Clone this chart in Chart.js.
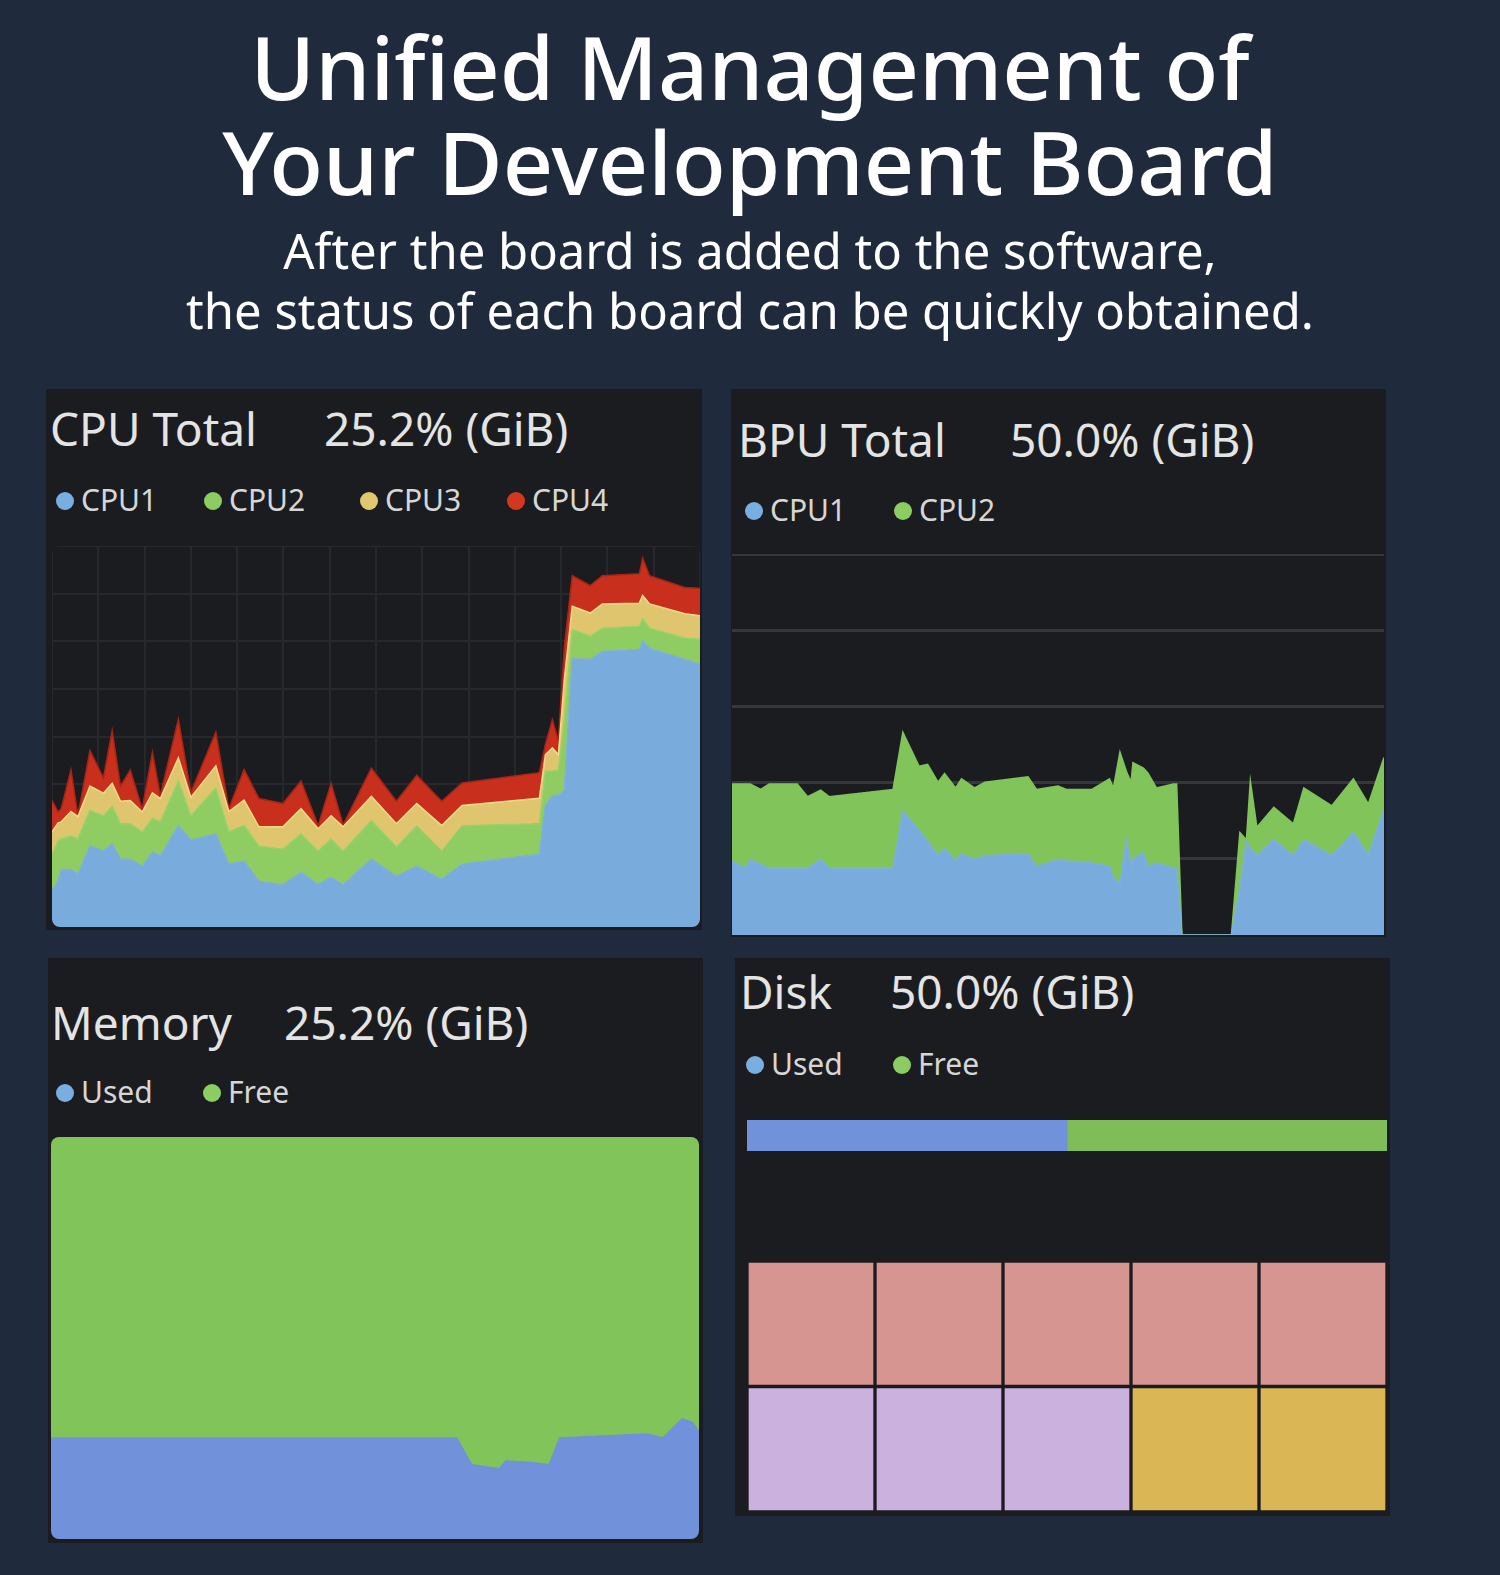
<!DOCTYPE html>
<html>
<head>
<meta charset="utf-8">
<title>Unified Management of Your Development Board</title>
<script src="https://cdn.jsdelivr.net/npm/chart.js@4.4.0/dist/chart.umd.min.js"></script>
<style>
  html, body { margin: 0; padding: 0; }
  body {
    width: 1500px; height: 1575px; position: relative; overflow: hidden;
    background: #1f2b3d; font-family: "Noto Sans", sans-serif; color: #fff;
  }
  .t { position: absolute; white-space: nowrap; line-height: 1; }
  .head { left: 0; width: 1500px; text-align: center; font-weight: 500; }
  .panel { position: absolute; background: #1b1c1f; }
  .box { position: absolute; }
  .box.round { border-radius: 8px; overflow: hidden; }
  .ptitle { color: #e4e4e4; }
  .leg { color: #d6d6d6; }
  .dot { position: absolute; width: 18px; height: 18px; border-radius: 50%; }
</style>
</head>
<body>

<div class="t head" id="h1" style="font-size:88px">Unified Management of</div>
<div class="t head" id="h2" style="font-size:88px">Your Development Board</div>
<div class="t head" id="s1" style="font-size:49px;font-weight:400">After the board is added to the software,</div>
<div class="t head" id="s2" style="font-size:49px;font-weight:400">the status of each board can be quickly obtained.</div>

<div class="panel" style="left:46px;top:389px;width:656px;height:541px"></div>
<div class="panel" style="left:731px;top:389px;width:655px;height:548px"></div>
<div class="panel" style="left:48px;top:958px;width:655px;height:585px"></div>
<div class="panel" style="left:735px;top:958px;width:655px;height:558px"></div>

<div class="box round" style="left:52px;top:546px;width:648px;height:381px"><canvas id="cpuChart"></canvas></div>
<div class="box" style="left:732px;top:554px;width:652px;height:381px"><canvas id="bpuChart"></canvas></div>
<div class="box round" style="left:51px;top:1137px;width:648px;height:402px"><canvas id="memChart"></canvas></div>
<div class="box" style="left:747px;top:1120px;width:640px;height:31px"><canvas id="diskBar"></canvas></div>
<div class="box" style="left:747px;top:1261px;width:640px;height:251px"><canvas id="diskGrid"></canvas></div>

<script>
// CPU Total (stacked %, time axis 0..140)
const cpuTime = [0, 1.3, 2.0, 4.1, 5.6, 8.2, 11.1, 13.0, 14.8, 16.9, 19.5, 21.7, 23.4, 27.3, 30.0, 35.4, 38.2, 41.5, 44.7, 49.9, 53.8, 57.5, 60.3, 62.9, 69.0, 74.4, 78.8, 84.2, 88.6, 105.3, 106.6, 108.1, 109.4, 110.7, 112.4, 116.3, 118.9, 126.9, 127.6, 129.1, 136.7, 140];
const cpu1 = [9.8, 11.9, 15.1, 15.1, 13.8, 21.3, 19.9, 21.8, 17.8, 17.8, 15.9, 19.7, 18.6, 26.6, 22.8, 24.4, 16.5, 17.3, 11.9, 11.1, 14.3, 11.1, 13.0, 11.1, 17.8, 13.3, 15.9, 12.5, 16.5, 19.1, 31.9, 34.5, 34.5, 35.9, 70.4, 70.2, 72.3, 72.8, 75.0, 73.1, 70.2, 68.9];
const cpu2 = [9.3, 10.6, 8.0, 8.8, 9.3, 9.3, 9.3, 9.8, 9.3, 9.3, 9.0, 8.8, 9.0, 11.7, 6.4, 12.0, 8.5, 9.3, 9.3, 9.3, 10.1, 8.8, 10.1, 8.8, 10.1, 7.7, 10.6, 7.4, 10.1, 8.0, 9.0, 6.4, 6.7, 18.6, 7.7, 6.1, 6.1, 6.1, 5.9, 5.3, 5.6, 6.7];
const cpu3 = [5.9, 4.8, 4.5, 6.4, 5.9, 6.4, 5.9, 6.1, 5.9, 6.1, 5.3, 6.7, 6.1, 6.1, 4.8, 5.9, 5.3, 6.7, 5.1, 5.9, 6.7, 5.9, 6.1, 6.4, 6.4, 6.1, 5.9, 6.7, 5.3, 6.7, 4.3, 6.1, 4.0, 10.6, 6.1, 6.1, 6.4, 6.1, 6.1, 6.4, 6.4, 6.1];
const cpu4 = [8.2, 2.9, 3.5, 10.9, 0.3, 9.3, 4.0, 13.8, 4.0, 8.0, 0.8, 10.6, 0.8, 10.1, 1.3, 8.8, 0.8, 8.0, 7.4, 6.1, 7.2, 0.8, 8.5, 0.5, 7.4, 5.9, 7.4, 6.4, 5.9, 6.7, 2.7, 7.4, 3.7, 8.5, 8.0, 7.2, 7.4, 7.7, 9.8, 7.4, 6.9, 7.2];
const cpuLabels = ['CPU1', 'CPU2', 'CPU3', 'CPU4'];

// BPU Total (stacked %, time axis 0..100)
const bpuTime = [0, 2.1, 2.8, 4.4, 5.7, 10.0, 11.6, 13.6, 14.9, 24.7, 26.2, 28.7, 30.0, 31.6, 32.6, 34.3, 35.2, 37.2, 38.8, 45.4, 46.7, 50.0, 51.3, 55.2, 57.9, 58.5, 59.5, 60.5, 61.2, 61.5, 63.1, 63.8, 65.1, 67.7, 68.2, 69.0, 76.6, 77.9, 78.9, 79.5, 80.5, 83.1, 86.1, 87.7, 92.0, 95.3, 97.6, 100];
const bpu1 = [19.4, 17.5, 19.8, 18.5, 17.5, 17.5, 17.5, 19.8, 17.5, 17.5, 32.5, 27.4, 24.6, 20.8, 22.7, 19.4, 21.3, 19.8, 20.8, 21.3, 18.0, 19.8, 19.4, 18.9, 18.0, 15.2, 13.3, 25.0, 18.0, 19.8, 21.7, 18.0, 18.9, 17.5, 17.5, 0, 0, 12.3, 24.6, 22.7, 20.8, 25.0, 20.8, 25.0, 20.8, 26.9, 20.8, 33.0];
const bpu2 = [20.2, 22.1, 19.8, 19.7, 22.1, 22.1, 18.8, 18.2, 18.8, 20.7, 20.7, 16.9, 20.2, 19.3, 19.7, 19.2, 19.7, 18.8, 19.3, 20.2, 20.2, 19.3, 18.8, 19.3, 23.0, 23.4, 34.7, 17.9, 22.1, 25.4, 22.1, 24.5, 19.7, 22.1, 22.1, 0, 0, 14.6, 0.4, 17.8, 7.5, 8.5, 8.4, 13.6, 13.1, 14.1, 13.6, 13.6];
const bpuLabels = ['CPU1', 'CPU2'];

// Memory (stacked %, time axis 0..100)
const memTime = [0, 62.6, 64.9, 69.2, 70.2, 74.2, 76.9, 78.5, 92.1, 94.4, 97.4, 99.0, 100];
const memUsed = [25.1, 25.1, 18.5, 17.5, 19.4, 19.0, 18.5, 25.1, 26.1, 25.1, 29.9, 29.0, 26.6];
const memFree = [74.9, 74.9, 81.5, 82.5, 80.6, 81.0, 81.5, 74.9, 73.9, 74.9, 70.1, 71.0, 73.4];
const memLabels = ['Used', 'Free'];

// Disk
const diskUsed = [50];
const diskFree = [50];
const diskBlocks = ['B1', 'B2', 'B3', 'B4', 'B5'];
const diskLowerRow = [1, 1, 1, 1, 1];
const diskUpperRow = [1, 1, 1, 1, 1];

// colours
const legendBlue = '#79aee0', legendGreen = '#8ccd62', legendYellow = '#e0c870', legendRed = '#d2381f';
const cpuFill = ['#79acdc', '#8fcd62', '#e0c56f', '#c8301d'];
const cpuEdge = ['#7cb0e0', '#96d46a', '#f2dc8c', '#a82414'];
const memFill = ['#7192db', '#80c45a'];
const lowerRowColors = ['#cbb2de', '#cbb2de', '#cbb2de', '#dab654', '#dab654'];
const upperRowColor = '#d79592';
const panelBg = '#1b1c1f';

Chart.defaults.animation = false;
Chart.defaults.plugins.legend.display = false;
Chart.defaults.plugins.tooltip.enabled = false;
Chart.defaults.maintainAspectRatio = false;

function pts(xs, ys) {
    return xs.map((x, i) => ({ x: x, y: ys[i] }));
}

function areaSet(label, xs, ys, fill, edge, first) {
    return {
        label: label,
        data: pts(xs, ys),
        backgroundColor: fill,
        borderColor: edge,
        borderWidth: 1.5,
        pointRadius: 0,
        tension: 0,
        fill: first ? 'origin' : '-1'
    };
}

// CPU chart
new Chart(document.getElementById('cpuChart'), {
    type: 'line',
    data: {
        datasets: [
            areaSet(cpuLabels[0], cpuTime, cpu1, cpuFill[0], cpuEdge[0], true),
            areaSet(cpuLabels[1], cpuTime, cpu2, cpuFill[1], cpuEdge[1], false),
            areaSet(cpuLabels[2], cpuTime, cpu3, cpuFill[2], cpuEdge[2], false),
            areaSet(cpuLabels[3], cpuTime, cpu4, cpuFill[3], cpuEdge[3], false)
        ]
    },
    options: {
        layout: { padding: 0 },
        scales: {
            x: { type: 'linear', min: 0, max: 140,
                 ticks: { display: false, stepSize: 10 },
                 grid: { color: '#27282c', lineWidth: 2, drawTicks: false },
                 border: { display: false } },
            y: { stacked: true, min: 0, max: 100,
                 ticks: { display: false, stepSize: 12.5 },
                 grid: { color: '#27282c', lineWidth: 2, drawTicks: false },
                 border: { display: false } }
        }
    }
});

// BPU chart
new Chart(document.getElementById('bpuChart'), {
    type: 'line',
    data: {
        datasets: [
            areaSet(bpuLabels[0], bpuTime, bpu1, cpuFill[0], cpuEdge[0], true),
            areaSet(bpuLabels[1], bpuTime, bpu2, '#80c45a', '#80c45a', false)
        ]
    },
    options: {
        layout: { padding: 0 },
        scales: {
            x: { type: 'linear', min: 0, max: 100, display: false },
            y: { stacked: true, min: 0, max: 100,
                 ticks: { display: false, stepSize: 20 },
                 grid: { color: '#36373b', lineWidth: 3, drawTicks: false },
                 border: { display: false } }
        }
    }
});

// Memory chart
new Chart(document.getElementById('memChart'), {
    type: 'line',
    data: {
        datasets: [
            areaSet(memLabels[0], memTime, memUsed, memFill[0], memFill[0], true),
            areaSet(memLabels[1], memTime, memFree, memFill[1], memFill[1], false)
        ]
    },
    options: {
        layout: { padding: 0 },
        scales: {
            x: { type: 'linear', min: 0, max: 100, display: false },
            y: { stacked: true, min: 0, max: 100, display: false }
        }
    }
});

// Disk usage bar
new Chart(document.getElementById('diskBar'), {
    type: 'bar',
    data: {
        labels: ['Disk'],
        datasets: [
            { label: 'Used', data: diskUsed, backgroundColor: memFill[0] },
            { label: 'Free', data: diskFree, backgroundColor: '#7ebd58' }
        ]
    },
    options: {
        indexAxis: 'y',
        layout: { padding: 0 },
        datasets: { bar: { barPercentage: 1, categoryPercentage: 1 } },
        scales: {
            x: { stacked: true, min: 0, max: 100, display: false },
            y: { stacked: true, display: false }
        }
    }
});

// Disk block grid
new Chart(document.getElementById('diskGrid'), {
    type: 'bar',
    data: {
        labels: diskBlocks,
        datasets: [
            { label: 'Lower', data: diskLowerRow, backgroundColor: lowerRowColors,
              borderColor: panelBg, borderWidth: 2, borderSkipped: false },
            { label: 'Upper', data: diskUpperRow, backgroundColor: upperRowColor,
              borderColor: panelBg, borderWidth: 2, borderSkipped: false }
        ]
    },
    options: {
        layout: { padding: 0 },
        datasets: { bar: { barPercentage: 1, categoryPercentage: 1 } },
        scales: {
            x: { stacked: true, display: false },
            y: { stacked: true, min: 0, max: 2, display: false }
        }
    }
});

// text placed by baseline (Noto Sans: baseline sits 0.888em below top at line-height 1)
function put(el, x, baseline, size) {
    el.style.top = (baseline - 0.888 * size) + 'px';
    if (x !== null) el.style.left = x + 'px';
}
function addText(txt, cls, x, baseline, size) {
    const d = document.createElement('div');
    d.className = 't ' + cls;
    d.textContent = txt;
    d.style.fontSize = size + 'px';
    document.body.appendChild(d);
    put(d, x, baseline, size);
    return d;
}
function addLegend(labels, colors, xs, baseline) {
    labels.forEach((lab, i) => {
        const dot = document.createElement('div');
        dot.className = 'dot';
        dot.style.background = colors[i];
        dot.style.left = (xs[i] - 9) + 'px';
        dot.style.top = (baseline - 20) + 'px';
        document.body.appendChild(dot);
        addText(lab, 'leg', xs[i] + 16, baseline, 30);
    });
}

put(document.getElementById('h1'), null, 100, 88);
put(document.getElementById('h2'), null, 195, 88);
put(document.getElementById('s1'), null, 270, 49);
put(document.getElementById('s2'), null, 330, 49);

addText('CPU Total', 'ptitle', 50, 446, 46);
addText('25.2% (GiB)', 'ptitle', 324, 446, 46);
addLegend(cpuLabels, [legendBlue, legendGreen, legendYellow, legendRed], [65, 213, 369, 516], 512);

addText('BPU Total', 'ptitle', 738, 457, 46);
addText('50.0% (GiB)', 'ptitle', 1010, 457, 46);
addLegend(bpuLabels, [legendBlue, legendGreen], [754, 903], 522);

addText('Memory', 'ptitle', 51, 1040, 46);
addText('25.2% (GiB)', 'ptitle', 284, 1040, 46);
addLegend(memLabels, [legendBlue, legendGreen], [65, 212], 1104);

addText('Disk', 'ptitle', 740, 1009, 46);
addText('50.0% (GiB)', 'ptitle', 890, 1009, 46);
addLegend(memLabels, [legendBlue, legendGreen], [755, 902], 1076);
</script>
</body>
</html>
